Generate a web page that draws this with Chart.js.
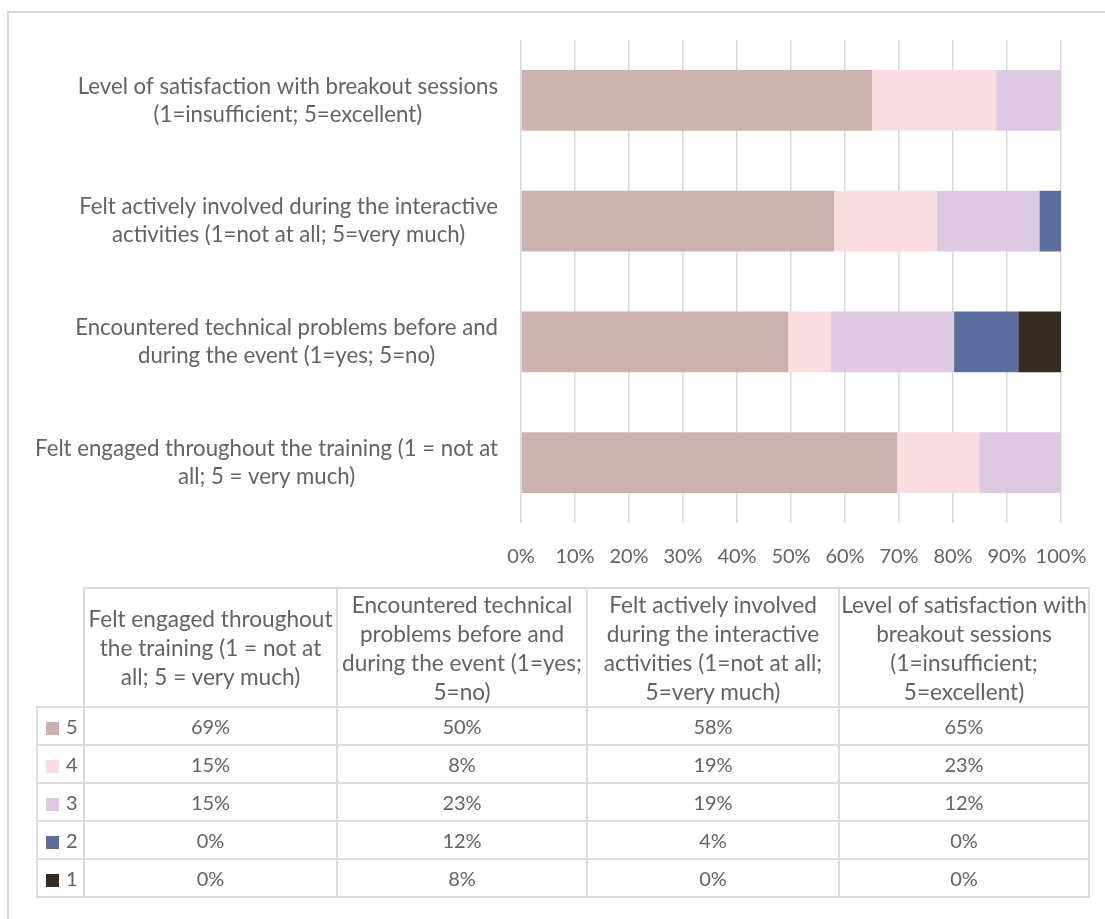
<!DOCTYPE html>
<html>
<head>
<meta charset="utf-8">
<title>Training feedback</title>
<script src="https://cdn.jsdelivr.net/npm/chart.js@4.4.1/dist/chart.umd.min.js"></script>
<style>
  body { margin: 0; width: 1105px; height: 919px; overflow: hidden; background: #fff;
         font-family: Lato, sans-serif; color: #636363; }
  #frame { position: absolute; left: 7px; top: 11px; width: 1200px; height: 1000px;
           border-left: 2px solid #d9d9d9; border-top: 2px solid #d9d9d9; }
  #chart { position: absolute; left: 0; top: 0; }
  #table { position: absolute; left: 36px; top: 587px; border-collapse: collapse;
           table-layout: fixed; font-size: 20px; line-height: 29px; }
  #table td { border: 2px solid #dcdcdc; text-align: center; vertical-align: middle; padding: 0 1px; }
  #table tr.head td { height: 117px; font-size: 22.6px; }
  #table tr.row td { height: 36px; }
  #table td.corner { border-top: none; border-left: none; }
  #table td.key { text-align: left; padding-left: 8px; white-space: nowrap; }
  .swatch { display: inline-block; width: 13px; height: 13px; margin-right: 7px; vertical-align: -1px; }
</style>
</head>
<body>
<div id="frame"></div>
<canvas id="chart" width="1120" height="595"></canvas>
<table id="table">
  <colgroup>
    <col style="width:47px"><col style="width:253px"><col style="width:250px"><col style="width:252px"><col style="width:250px">
  </colgroup>
  <tbody id="tbody"></tbody>
</table>
<script>
// Survey questions, in table order (the chart lists them bottom-up)
const categories = [
  'Felt engaged throughout the training (1 = not at all; 5 = very much)',
  'Encountered technical problems before and during the event (1=yes; 5=no)',
  'Felt actively involved during the interactive activities (1=not at all; 5=very much)',
  'Level of satisfaction with breakout sessions (1=insufficient; 5=excellent)'
];

// Share of answers per score, in percent
const score5 = [69, 50, 58, 65];
const score4 = [15, 8, 19, 23];
const score3 = [15, 23, 19, 12];
const score2 = [0, 12, 4, 0];
const score1 = [0, 8, 0, 0];

const scoreNames = ['5', '4', '3', '2', '1'];
const scoreValues = [score5, score4, score3, score2, score1];
const scoreColors = ['#ccb2ae', '#f9dde1', '#ddcae2', '#5b6c9d', '#372b20'];

const textColor = '#636363';
const fontFamily = 'Lato, sans-serif';

// 100% stacked: each question's bar is scaled to its own total
const totals = categories.map((c, i) => scoreValues.reduce((s, arr) => s + arr[i], 0));

function wrapText(ctx, text, maxWidth) {
    const words = text.split(' ');
    let lines = [];
    let line = '';
    words.forEach(w => {
        const test = line ? line + ' ' + w : w;
        if (line && ctx.measureText(test).width > maxWidth) {
            lines.push(line);
            line = w;
        } else {
            line = test;
        }
    });
    if (line) lines.push(line);
    return lines;
}

// Question labels: block right-aligned to the plot, lines centred inside it
const categoryLabels = {
    id: 'categoryLabels',
    afterDraw(chart) {
        const ctx = chart.ctx;
        const y = chart.scales.y;
        const right = chart.chartArea.left - 23;
        ctx.save();
        ctx.font = '22.2px ' + fontFamily;
        ctx.fillStyle = textColor;
        ctx.textAlign = 'center';
        ctx.textBaseline = 'middle';
        categories.forEach((label, i) => {
            const lines = wrapText(ctx, label, 480);
            const widest = Math.max(...lines.map(l => ctx.measureText(l).width));
            const cx = right - widest / 2;
            const cy = y.getPixelForValue(i);
            lines.forEach((l, k) => {
                ctx.fillText(l, cx, cy + (k - (lines.length - 1) / 2) * 28);
            });
        });
        ctx.restore();
    }
};

let ctx = document.getElementById('chart').getContext('2d');
let chart = new Chart(ctx, {
    type: 'bar',
    data: {
        labels: categories,
        datasets: scoreNames.map((name, s) => ({
            label: name,
            data: scoreValues[s].map((v, i) => v / totals[i] * 100),
            backgroundColor: scoreColors[s],
            borderWidth: 0,
            barPercentage: 0.505,
            categoryPercentage: 1
        }))
    },
    options: {
        indexAxis: 'y',
        responsive: false,
        animation: false,
        layout: { padding: { left: 521, right: 59, top: 40, bottom: 4 } },
        plugins: {
            legend: { display: false },
            tooltip: { enabled: false }
        },
        scales: {
            x: {
                stacked: true,
                min: 0,
                max: 100,
                border: { display: false },
                grid: { color: '#d9d9d9', lineWidth: 1.5, drawTicks: false },
                ticks: {
                    stepSize: 10,
                    padding: 22,
                    maxRotation: 0,
                    minRotation: 0,
                    autoSkip: false,
                    color: textColor,
                    font: { family: fontFamily, size: 20 },
                    callback: v => v + '%'
                }
            },
            y: {
                stacked: true,
                reverse: true,
                display: false
            }
        }
    },
    plugins: [categoryLabels]
});

// Data table under the chart
const tbody = document.getElementById('tbody');
let head = '<tr class="head"><td class="corner"></td>';
categories.forEach(c => { head += '<td>' + c + '</td>'; });
head += '</tr>';
let rows = '';
scoreNames.forEach((name, s) => {
    rows += '<tr class="row"><td class="key"><span class="swatch" style="background:' + scoreColors[s] + '"></span>' + name + '</td>';
    scoreValues[s].forEach(v => { rows += '<td>' + v + '%</td>'; });
    rows += '</tr>';
});
tbody.innerHTML = head + rows;
</script>
</body>
</html>
